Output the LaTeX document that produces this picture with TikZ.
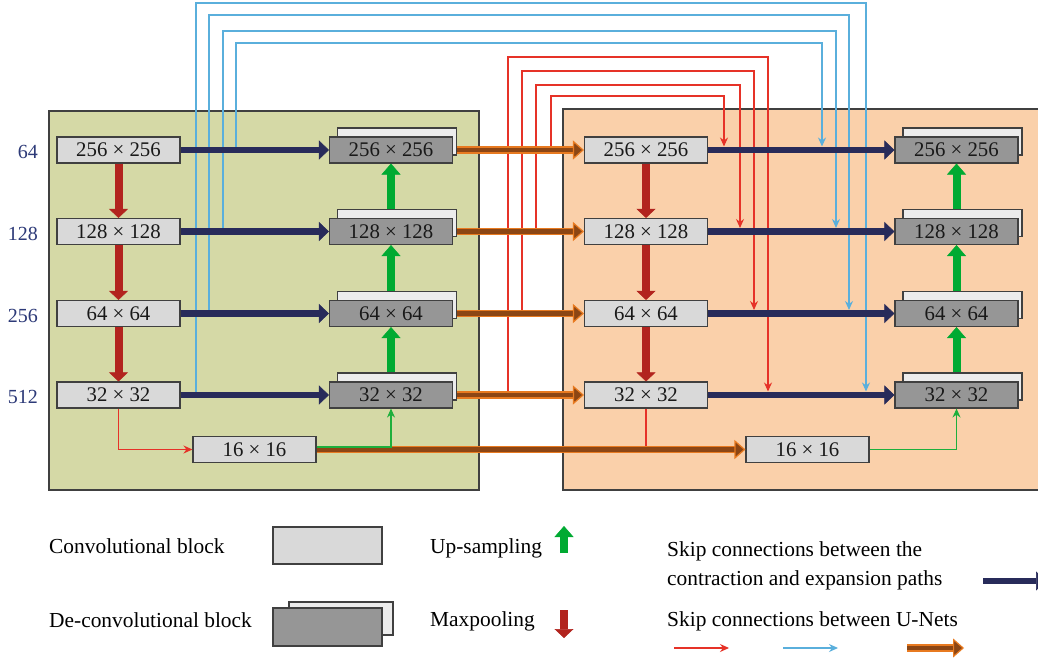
\documentclass[tikz,border=0pt]{standalone}
\usepackage{fontspec}
\setmainfont{Liberation Serif}
\usetikzlibrary{arrows.meta}
\definecolor{leftpanel}{RGB}{213,217,166}
\definecolor{rightpanel}{RGB}{250,208,170}
\definecolor{bordc}{RGB}{64,64,64}
\definecolor{convc}{RGB}{217,217,217}
\definecolor{deconvc}{RGB}{150,150,150}
\definecolor{backc}{RGB}{236,236,236}
\definecolor{navyc}{RGB}{40,43,90}
\definecolor{poolc}{RGB}{178,36,30}
\definecolor{upc}{RGB}{0,170,50}
\definecolor{tredc}{RGB}{230,50,40}
\definecolor{tbluec}{RGB}{90,175,220}
\definecolor{tgreenc}{RGB}{30,175,60}
\definecolor{brownc}{RGB}{140,70,20}
\definecolor{orangec}{RGB}{232,122,32}
\definecolor{levelc}{RGB}{45,58,120}
\newcommand\boxfont{\fontsize{20.8}{24}\selectfont}
\newcommand\legfont{\fontsize{21.4}{29}\selectfont}
\tikzset{
  panel/.style={draw=bordc, line width=1.4pt},
  conv/.style={draw=bordc, fill=convc, line width=1.1pt, minimum width=123pt, minimum height=26pt, inner sep=0pt, font=\boxfont, text=black!90},
  deconv/.style={conv, fill=deconvc},
  backbox/.style={draw=bordc, fill=backc, line width=1.1pt},
  navyarrow/.style={draw=navyc, line width=6.5pt, -{Triangle[length=10pt,width=19pt,line width=0.5pt]}},
  poolarrow/.style={draw=poolc, line width=8pt, -{Triangle[length=9pt,width=19pt,line width=0.5pt]}},
  uparrow/.style={draw=upc, line width=8pt, -{Triangle[length=11pt,width=19pt,line width=0.5pt]}},
  brownarrow/.style={draw=brownc, line width=4.5pt, preaction={draw=orangec, line width=7.5pt, arrows=-, shorten >=9pt},
     -{Triangle[length=11pt,width=19pt,line width=1.2pt,fill=brownc,color=orangec]}},
  thinred/.style={draw=tredc, line width=1.1pt, -{Stealth[length=9pt,width=8pt]}},
  thinredline/.style={draw=tredc, line width=1.1pt},
  thinblue/.style={draw=tbluec, line width=1.2pt, -{Stealth[length=9pt,width=8pt]}},
  thingreen/.style={draw=tgreenc, line width=1.1pt, -{Stealth[length=9pt,width=8pt]}},
  level/.style={anchor=east, font=\fontsize{20}{24}\selectfont, text=levelc, inner sep=0pt},
  legtext/.style={anchor=west, font=\legfont, inner sep=0pt, align=left}
}
\newcommand\deconvbox[4]{%
  \draw[backbox] (#2-62.5+9,#3-13-9) rectangle (#2+61.5+4,#3+13-8);
  \node[deconv] (#1) at (#2,#3) {#4};}
\begin{document}
\begin{tikzpicture}[x=1pt,y=-1pt]
\clip (0,0) rectangle (1038,660);
\fill[white] (0,0) rectangle (1038,660);
% panels
\draw[panel, fill=leftpanel] (49,111) rectangle (479,490);
\draw[panel, fill=rightpanel] (563,109) rectangle (1060,490);
% level labels
\node[level] (l1) at (38,152) {64};
\node[level] (l2) at (38,233.5) {128};
\node[level] (l3) at (38,315.5) {256};
\node[level] (l4) at (38,397) {512};
% left net
\node[conv] (c1) at (118.5,150) {256 × 256};
\node[conv] (c2) at (118.5,231.5) {128 × 128};
\node[conv] (c3) at (118.5,313.5) {64 × 64};
\node[conv] (c4) at (118.5,395) {32 × 32};
\deconvbox{d1}{391}{150}{256 × 256}
\deconvbox{d2}{391}{231.5}{128 × 128}
\deconvbox{d3}{391}{313.5}{64 × 64}
\deconvbox{d4}{391}{395}{32 × 32}
\node[conv] (s1) at (254.5,449.5) {16 × 16};
% right net
\node[conv] (r1) at (646,150) {256 × 256};
\node[conv] (r2) at (646,231.5) {128 × 128};
\node[conv] (r3) at (646,313.5) {64 × 64};
\node[conv] (r4) at (646,395) {32 × 32};
\deconvbox{e1}{956.5}{150}{256 × 256}
\deconvbox{e2}{956.5}{231.5}{128 × 128}
\deconvbox{e3}{956.5}{313.5}{64 × 64}
\deconvbox{e4}{956.5}{395}{32 × 32}
\node[conv] (s2) at (807.5,449.5) {16 × 16};
% skip coordinates
\coordinate (bs1) at (236,150);   \coordinate (be1) at (822,146.5);
\coordinate (bs2) at (223,231.5); \coordinate (be2) at (836,228);
\coordinate (bs3) at (209,313.5); \coordinate (be3) at (849,310);
\coordinate (bs4) at (196,395);   \coordinate (be4) at (866,391.5);
\coordinate (rs1) at (551,150);   \coordinate (re1) at (724,146.5);
\coordinate (rs2) at (536,231.5); \coordinate (re2) at (740,228);
\coordinate (rs3) at (522,313.5); \coordinate (re3) at (754,310);
\coordinate (rs4) at (508,395);   \coordinate (re4) at (768,391.5);
% blue skip connections
\draw[thinblue] (bs1) -- (236,43) -| (be1);
\draw[thinblue] (bs2) -- (223,31) -| (be2);
\draw[thinblue] (bs3) -- (209,15) -| (be3);
\draw[thinblue] (bs4) -- (196,3) -| (be4);
% red skip connections
\draw[thinred] (rs1) -- (551,96) -| (re1);
\draw[thinred] (rs2) -- (536,85) -| (re2);
\draw[thinred] (rs3) -- (522,71) -| (re3);
\draw[thinred] (rs4) -- (508,57) -| (re4);
% thin connections to/from bottleneck
\draw[thinred] (c4.south) |- (s1.west);
\draw[thinredline] (r4.south) -- (r4.south |- s2.west);
% navy skip arrows
\foreach \i in {1,2,3,4}{
  \draw[navyarrow] (c\i.east) -- (d\i.west);
  \draw[navyarrow] (r\i.east) -- (e\i.west);
}
% brown arrows between nets
\foreach \i in {1,2,3,4}{
  \draw[brownarrow] ([xshift=4pt]d\i.east) -- (r\i.west);
}
\draw[brownarrow] (s1.east) -- (s2.west);
\draw[thingreen] ([yshift=2.5pt]s1.east) -| (d4.south);
\draw[thingreen] (s2.east) -| (e4.south);
% maxpooling
\draw[poolarrow] (c1.south) -- (c2.north);
\draw[poolarrow] (c2.south) -- (c3.north);
\draw[poolarrow] (c3.south) -- (c4.north);
\draw[poolarrow] (r1.south) -- (r2.north);
\draw[poolarrow] (r2.south) -- (r3.north);
\draw[poolarrow] (r3.south) -- (r4.north);
% up-sampling
\draw[uparrow] ([yshift=9pt]d2.north) -- (d1.south);
\draw[uparrow] ([yshift=9pt]d3.north) -- (d2.south);
\draw[uparrow] ([yshift=9pt]d4.north) -- (d3.south);
\draw[uparrow] ([yshift=9pt]e2.north) -- (e1.south);
\draw[uparrow] ([yshift=9pt]e3.north) -- (e2.south);
\draw[uparrow] ([yshift=9pt]e4.north) -- (e3.south);
% legend
\node[legtext] (t1) at (49,546) {Convolutional block};
\node[conv, minimum width=109pt, minimum height=37pt] (lg1) at (327.5,545.5) {};
\node[legtext] (t2) at (49,620) {De-convolutional block};
\draw[backbox] (289,602) rectangle (393,635);
\node[deconv, minimum width=109pt, minimum height=38pt] (lg2) at (327.5,627) {};
\node[legtext] (t3) at (430,548) {Up-sampling};
\coordinate (ua) at (564,553); \coordinate (ub) at (564,526);
\draw[uparrow] (ua) -- (ub);
\node[legtext] (t4) at (430,621) {Maxpooling};
\coordinate (pa) at (564,610); \coordinate (pb) at (564,638);
\draw[poolarrow] (pa) -- (pb);
\node[legtext] (t5) at (667,565.5) {Skip connections between the\\contraction and expansion paths};
\coordinate (na) at (983,581); \coordinate (nb) at (1046,581);
\draw[navyarrow] (na) -- (nb);
\node[legtext] (t6) at (667,621) {Skip connections between U-Nets};
\coordinate (ra) at (674,648); \coordinate (rb) at (729,648);
\draw[thinred] (ra) -- (rb);
\coordinate (ba) at (783,648); \coordinate (bb) at (838,648);
\draw[thinblue] (ba) -- (bb);
\coordinate (oa) at (907,648); \coordinate (ob) at (964,648);
\draw[brownarrow] (oa) -- (ob);
\end{tikzpicture}
\end{document}
